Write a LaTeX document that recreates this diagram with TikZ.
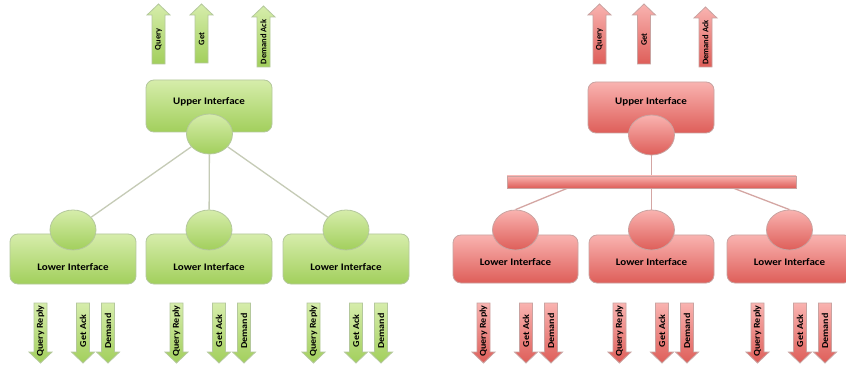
\documentclass[tikz,border=0pt]{standalone}
\usepackage{fontspec}
\setmainfont{Carlito}
\usetikzlibrary{shapes.geometric,backgrounds}

\definecolor{gTop}{HTML}{D6EDAB}
\definecolor{gBot}{HTML}{A2CF5C}
\definecolor{gEdge}{HTML}{B4C89C}
\definecolor{gLine}{HTML}{C5CBB6}
\definecolor{rTop}{HTML}{F9B3B0}
\definecolor{rBot}{HTML}{DE5E59}
\definecolor{rEdge}{HTML}{C9A3A1}
\definecolor{rLine}{HTML}{D4A6A3}

\tikzset{
  gpaint/.style={draw=gEdge, line width=0.8pt, top color=gTop, bottom color=gBot},
  rpaint/.style={draw=rEdge, line width=0.8pt, top color=rTop, bottom color=rBot},
  box/.style={rectangle, rounded corners=8pt, inner sep=0pt},
  bubble/.style={ellipse, minimum width=46pt, minimum height=40pt, inner sep=0pt},
  title/.style={font=\bfseries\fontsize{10}{12}\selectfont, inner sep=0pt},
  uptag/.style={font=\bfseries\fontsize{8.5}{10}\selectfont, inner sep=0pt, rotate=90},
  downtag/.style={font=\bfseries\fontsize{9}{10}\selectfont, inner sep=0pt, rotate=90},
  glink/.style={draw=gLine, line width=1.3pt},
  rlink/.style={draw=rLine, line width=1.3pt},
}

% block arrow pointing up: paint, name, centre x, tip y, tail y, label
\newcommand\sigup[6]{%
  \path[#1] (#3-6.5,#5) -- (#3-6.5,#4+11) -- (#3-11.5,#4+11) -- (#3,#4)
    -- (#3+11.5,#4+11) -- (#3+6.5,#4+11) -- (#3+6.5,#5) -- cycle;
  \node[uptag] (#2) at (#3,{(#4+11+#5)/2}) {#6};
}
% block arrow pointing down: paint, name, centre x, tail y, tip y, label
\newcommand\sigdown[6]{%
  \path[#1] (#3-6.5,#4) -- (#3-6.5,#5-11) -- (#3-11.5,#5-11) -- (#3,#5)
    -- (#3+11.5,#5-11) -- (#3+6.5,#5-11) -- (#3+6.5,#4) -- cycle;
  \node[downtag] (#2) at (#3,331) {\scalebox{1.12}[1]{#6}};
}
% the three signals below a lower interface whose box starts at x = #3
\newcommand\lowersigs[3]{%
  \sigdown{#1}{#2qr}{#3+30.5}{303}{363}{Query Reply}
  \sigdown{#1}{#2ga}{#3+73}{303}{363}{Get Ack}
  \sigdown{#1}{#2dm}{#3+98}{303}{363}{Demand}
}

\begin{document}
\begin{tikzpicture}[x=1pt, y=-1pt]
  \useasboundingbox (0,0) rectangle (846,366);
  \begin{pgfonlayer}{background}
    \fill[white] (0,0) rectangle (846,366);
  \end{pgfonlayer}

  % ---------------- green: direct tree ----------------
  \sigup{gpaint}{gq}{158.5}{4}{64}{Query}
  \sigup{gpaint}{gg}{201.5}{4}{63}{Get}
  \sigup{gpaint}{gd}{263.5}{6}{67}{Demand Ack}

  \node[box, gpaint, minimum width=126pt, minimum height=52pt] (gub) at (209,106) {};
  \node[title] (gubt) at (209,102) {\scalebox{1.1}[1]{Upper Interface}};
  \node[bubble, gpaint] (guc) at (209.5,134) {};

  \foreach \n/\cx in {1/73, 2/209, 3/346} {
    \node[box, gpaint, minimum width=126pt, minimum height=50pt] (glb\n) at (\cx,259) {};
    \node[title] (glbt\n) at (\cx,267) {\scalebox{1.1}[1]{Lower Interface}};
    \node[bubble, gpaint] (glc\n) at (\cx,230) {};
  }
  \lowersigs{gpaint}{ga}{10}
  \lowersigs{gpaint}{gb}{146}
  \lowersigs{gpaint}{gc}{283}

  \begin{pgfonlayer}{background}
    \draw[glink] (guc) -- (glc1);
    \draw[glink] (guc) -- (glc2);
    \draw[glink] (guc) -- (glc3);
  \end{pgfonlayer}

  % ---------------- red: tree through a bus bar ----------------
  \sigup{rpaint}{rq}{599.5}{4}{64}{Query}
  \sigup{rpaint}{rg}{644}{4}{64}{Get}
  \sigup{rpaint}{rd}{705.5}{7}{67}{Demand Ack}

  \node[box, rpaint, minimum width=126pt, minimum height=51pt] (rub) at (651,107.5) {};
  \node[title] (rubt) at (651,102) {\scalebox{1.1}[1]{Upper Interface}};
  \node[bubble, rpaint] (ruc) at (651.5,135) {};

  \node[rectangle, rpaint, minimum width=289pt, minimum height=12pt, inner sep=0pt] (bar) at (651.5,182) {};
  \coordinate (tapl) at (568,188);
  \coordinate (tapr) at (733,188);

  \foreach \n/\cx in {1/515.5, 2/651.5, 3/789.5} {
    \node[box, rpaint, minimum width=125pt, minimum height=48pt] (rlb\n) at (\cx,259) {};
    \node[title] (rlbt\n) at (\cx,262) {\scalebox{1.1}[1]{Lower Interface}};
    \node[bubble, rpaint] (rlc\n) at (\cx,230) {};
  }
  \lowersigs{rpaint}{ra}{453}
  \lowersigs{rpaint}{rb}{589}
  \lowersigs{rpaint}{rc}{727}

  \begin{pgfonlayer}{background}
    \draw[rlink] (ruc) -- (bar.north);
    \draw[rlink] (tapl) -- (rlc1.north);
    \draw[rlink] (bar.south) -- (rlc2.north);
    \draw[rlink] (tapr) -- (rlc3.north);
  \end{pgfonlayer}
\end{tikzpicture}
\end{document}
